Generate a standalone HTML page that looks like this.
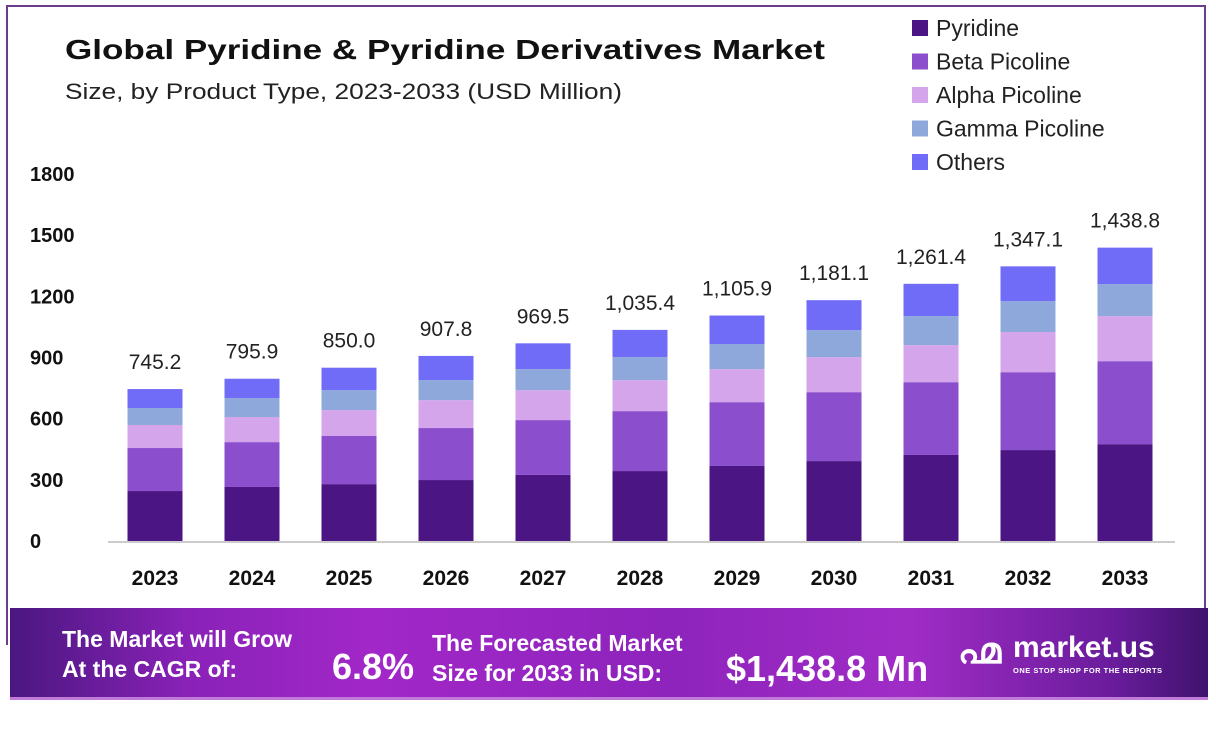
<!DOCTYPE html>
<html><head><meta charset="utf-8"><style>
html,body{margin:0;padding:0;background:#fff;}
body{width:1216px;height:733px;position:relative;overflow:hidden;font-family:"Liberation Sans",sans-serif;}
#frame{position:absolute;left:6px;top:5px;width:1200px;height:640px;border:2px solid #6b3d8c;border-bottom:none;box-sizing:border-box;}
#footer{position:absolute;left:10px;top:608px;width:1198px;height:92px;background:linear-gradient(90deg,#4a1780 0%,#8a22b8 15%,#a227c8 30%,#8e24bc 55%,#a02cc6 75%,#6a1c9c 92%,#3f126e 100%);border-bottom:3px solid #c07ad8;box-sizing:border-box;}
.ft{position:absolute;color:#fff;font-weight:bold;white-space:nowrap;}
</style></head><body>
<div id="frame"></div>
<svg id="chart" width="1216" height="610" style="position:absolute;left:0;top:0">
<text x="65" y="59" font-size="28" font-weight="bold" fill="#111" textLength="760" lengthAdjust="spacingAndGlyphs">Global Pyridine &amp; Pyridine Derivatives Market</text>
<text x="65" y="99" font-size="22" fill="#222" textLength="557" lengthAdjust="spacingAndGlyphs">Size, by Product Type, 2023-2033 (USD Million)</text>
<g id="legend"></g>
<g id="yaxis"></g>
<line x1="108" x2="1175" y1="542" y2="542" stroke="#ccc" stroke-width="2"/>
<g id="bars"></g>
<g id="xaxis"></g>
</svg>
<div id="footer">
<div class="ft" style="left:52px;top:16px;font-size:23px;line-height:30px">The Market will Grow<br>At the CAGR of:</div>
<div class="ft" style="left:322px;top:38px;font-size:36px">6.8%</div>
<div class="ft" style="left:422px;top:20px;font-size:23px;line-height:30px">The Forecasted Market<br>Size for 2033 in USD:</div>
<div class="ft" style="left:716px;top:40px;font-size:36px">$1,438.8 Mn</div>
<div class="ft" style="left:948px;top:22px;font-size:36px">൶</div>
<div class="ft" style="left:1003px;top:23px;font-size:30px">market.us</div>
<div class="ft" style="left:1003px;top:58px;font-size:7.5px;letter-spacing:0.5px">ONE STOP SHOP FOR THE REPORTS</div>
</div>
<script>
const years=["2023","2024","2025","2026","2027","2028","2029","2030","2031","2032","2033"];
const totals=[745.2,795.9,850.0,907.8,969.5,1035.4,1105.9,1181.1,1261.4,1347.1,1438.8];
const totalLabels=["745.2","795.9","850.0","907.8","969.5","1,035.4","1,105.9","1,181.1","1,261.4","1,347.1","1,438.8"];
const pyridine=[245,265,279,299,324,343,368,392,422,446,475];
const beta=[211,220,236,255,269,294,313,338,357,382,407];
const alpha=[113,123,127,137,147,152,162,172,182,197,221];
const gamma=[83,93,98,98,103,113,123,132,142,151,157];
const others=[93.2,94.9,110,118.8,126.5,133.4,139.9,147.1,158.4,171.1,178.8];
const seriesNames=["Pyridine","Beta Picoline","Alpha Picoline","Gamma Picoline","Others"];
const colors=["#4b1683","#8b4fce","#d4a5ea","#8fa8dc","#716cf7"];
const yTicks=[0,300,600,900,1200,1500,1800];
const NS="http://www.w3.org/2000/svg";
function y(v){return 541-v*(367/1800);}
function x(i){return 155+i*97;}
const series=[pyridine,beta,alpha,gamma,others];
const bars=document.getElementById('bars');
years.forEach((yr,i)=>{
  let acc=0;
  series.forEach((s,k)=>{
    const r=document.createElementNS(NS,'rect');
    r.setAttribute('x',x(i)-27.5);r.setAttribute('width',55);
    r.setAttribute('y',y(acc+s[i]));r.setAttribute('height',y(acc)-y(acc+s[i]));
    r.setAttribute('fill',colors[k]);
    
    
    bars.appendChild(r);acc+=s[i];
  });
  const t=document.createElementNS(NS,'text');
  t.setAttribute('x',x(i));t.setAttribute('y',y(totals[i])-20);
  t.setAttribute('text-anchor','middle');t.setAttribute('font-size','21');t.setAttribute('fill','#222');
  t.textContent=totalLabels[i];
  
  
  bars.appendChild(t);
  const xl=document.createElementNS(NS,'text');
  xl.setAttribute('x',x(i));xl.setAttribute('y',585);
  xl.setAttribute('text-anchor','middle');xl.setAttribute('font-size','21');xl.setAttribute('font-weight','bold');xl.setAttribute('fill','#111');
  xl.textContent=yr;
  
  
  document.getElementById('xaxis').appendChild(xl);
});
yTicks.forEach(v=>{
  const t=document.createElementNS(NS,'text');
  t.setAttribute('x',30);t.setAttribute('y',y(v)+7);
  t.setAttribute('font-size','20');t.setAttribute('font-weight','bold');t.setAttribute('fill','#111');
  t.textContent=v;
  
  
  document.getElementById('yaxis').appendChild(t);
});
const lg=document.getElementById('legend');
seriesNames.forEach((n,k)=>{
  const yy=28+k*33.5;
  const r=document.createElementNS(NS,'rect');
  r.setAttribute('x',912);r.setAttribute('y',yy-8);r.setAttribute('width',16);r.setAttribute('height',16);r.setAttribute('fill',colors[k]);
  
  
  lg.appendChild(r);
  const t=document.createElementNS(NS,'text');
  t.setAttribute('x',936);t.setAttribute('y',yy+8);t.setAttribute('font-size','23');t.setAttribute('fill','#222');
  t.textContent=n;
  
  
  lg.appendChild(t);
});
</script>
</body></html>
